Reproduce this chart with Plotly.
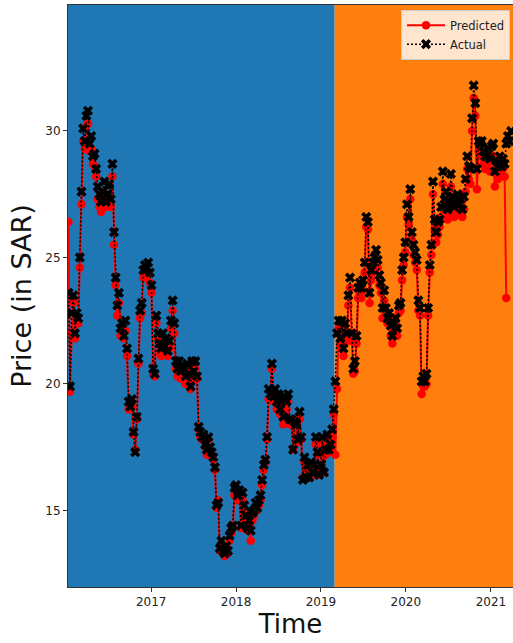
import pandas as pd
import plotly.graph_objects as go

# ---------------- data ----------------
start_date = "2016-01-11"
split_date = "2019-03-01"
x_range = ["2016-01-09", "2021-04-06"]
y_range = [11.97, 34.98]

actual = [
    # 2016
    23.6, 19.9, 22.8, 23.5, 22.0, 22.8, 22.6, 25.0, 27.6, 30.1,
    29.6, 30.6, 30.8, 29.5, 29.8, 29.0, 29.1, 28.5, 27.8, 27.5,
    27.2, 27.6, 28.0, 27.2, 27.5, 27.9, 27.3, 28.7, 26.0, 24.2,
    23.1, 23.6, 22.2, 22.4, 21.9, 22.5, 21.4, 19.3, 19.1, 19.4,
    18.1, 17.3, 18.7, 21.0, 22.9, 23.2, 24.5, 24.7, 24.6, 24.8,
    24.4, 23.9,
    # 2017
    20.6, 20.4, 22.7, 22.0, 21.6, 21.4, 22.0, 21.5, 21.8, 21.3,
    21.7, 22.5, 23.3, 22.4, 20.9, 20.6, 20.9, 20.5, 20.7, 20.6,
    20.3, 20.8, 20.4, 19.9, 20.9, 20.5, 20.9, 20.3, 18.3, 18.1,
    17.9, 18.0, 17.6, 17.4, 17.9, 17.5, 17.3, 17.1, 16.7, 15.2,
    15.3, 13.5, 13.8, 13.4, 13.3, 13.6, 13.4, 14.0, 14.3, 14.4,
    15.9, 16.0,
    # 2018
    15.6, 15.8, 14.4, 15.7, 15.2, 14.8, 14.3, 14.6, 14.2, 14.9,
    15.0, 15.3, 15.1, 15.4, 15.6, 16.2, 16.8, 17.0, 17.9, 19.8,
    19.6, 20.8, 19.5, 19.8, 19.3, 19.6, 19.0, 19.4, 18.7, 19.5,
    19.3, 19.6, 18.6, 18.6, 17.4, 18.5, 18.4, 17.8, 18.9, 17.9,
    16.2, 17.1, 16.3, 16.8, 16.3, 16.9, 16.5, 16.8, 17.9, 17.3,
    16.4, 16.8,
    # 2019
    17.9, 16.5, 17.4, 18.0, 17.4, 17.6, 18.2, 19.0, 20.1, 22.0,
    22.5, 21.8, 22.5, 21.4, 22.4, 22.0, 23.5, 24.2, 22.0, 20.6,
    20.9, 21.9, 23.8, 24.0, 23.8, 24.1, 24.8, 26.6, 26.4, 23.6,
    24.5, 24.8, 25.0, 25.3, 24.9, 24.3, 24.0, 23.0, 23.7, 23.0,
    22.6, 22.8, 22.3, 21.9, 22.4, 22.6, 22.2, 23.1, 23.2, 24.5,
    25.0, 25.6,
    # 2020 - 2021
    27.1, 26.6, 27.7, 26.0, 25.5, 25.2, 24.9, 23.3, 23.0, 20.1,
    20.3, 20.1, 20.4, 23.0, 24.7, 25.5, 28.0, 26.5, 26.0, 26.4,
    26.5, 27.0, 28.4, 27.3, 27.6, 26.9, 27.2, 28.3, 27.4, 27.0,
    27.3, 27.5, 27.1, 27.3, 26.9, 27.4, 28.1, 29.0, 28.6, 28.5,
    30.5, 31.8, 31.1, 28.5, 29.6, 29.5, 29.6, 29.2, 29.0, 29.0,
    29.3, 28.9, 29.4, 29.5, 28.4, 28.8, 28.6, 29.0, 28.6, 28.9,
    28.7, 29.5, 29.8, 29.6, 30.0,
]

predicted = [
    # 2016
    26.4, 19.7, 22.0, 23.2, 21.8, 22.5, 22.4, 24.6, 27.1, 29.6,
    29.3, 30.2, 30.3, 29.2, 29.3, 28.7, 28.6, 28.2, 27.3, 27.0,
    26.8, 27.0, 27.6, 27.0, 27.0, 27.3, 27.0, 28.2, 25.5, 23.9,
    22.7, 23.2, 21.9, 22.0, 21.8, 22.1, 21.1, 19.0, 19.0, 19.1,
    18.0, 17.4, 18.6, 20.8, 22.6, 22.8, 24.2, 24.3, 24.3, 24.4,
    24.0, 23.6,
    # 2017
    20.4, 20.3, 22.4, 21.8, 21.2, 21.1, 21.6, 21.2, 21.4, 21.1,
    21.4, 22.2, 22.9, 22.0, 20.6, 20.3, 20.5, 20.2, 20.4, 20.3,
    20.0, 20.5, 20.1, 19.8, 20.6, 20.2, 20.6, 20.2, 18.2, 17.9,
    17.8, 17.8, 17.5, 17.2, 17.8, 17.3, 17.2, 17.0, 16.6, 15.1,
    15.4, 13.4, 13.6, 13.3, 13.2, 13.4, 13.3, 13.8, 14.1, 14.3,
    15.6, 15.8,
    # 2018
    15.4, 15.6, 14.3, 15.4, 15.0, 14.6, 14.2, 14.4, 13.8, 14.6,
    14.8, 15.1, 15.0, 15.2, 15.4, 16.0, 16.6, 16.9, 17.8, 19.4,
    19.4, 20.6, 19.3, 19.5, 19.0, 19.3, 18.8, 19.1, 18.4, 19.2,
    19.0, 19.3, 18.4, 18.5, 17.4, 18.3, 18.2, 17.7, 18.6, 17.8,
    16.3, 16.9, 16.3, 16.6, 16.3, 16.7, 16.4, 16.7, 17.6, 17.2,
    16.4, 16.6,
    # 2019
    17.6, 16.5, 17.2, 17.8, 17.3, 17.5, 17.9, 18.8, 17.2, 19.8,
    22.2, 21.5, 22.2, 21.1, 22.0, 21.7, 23.1, 23.8, 21.7, 20.4,
    20.5, 21.6, 23.4, 23.6, 23.4, 23.7, 24.4, 26.2, 26.1, 23.2,
    24.1, 24.4, 24.6, 24.9, 24.6, 23.9, 23.6, 22.6, 23.3, 22.6,
    22.4, 22.5, 21.9, 21.6, 22.1, 22.3, 21.9, 22.8, 22.9, 24.1,
    24.7, 25.2,
    # 2020 - 2021
    26.6, 26.3, 27.3, 25.7, 25.1, 24.8, 24.5, 22.9, 22.7, 19.6,
    19.9, 19.9, 20.0, 22.7, 24.4, 25.1, 27.5, 26.1, 25.6, 25.9,
    26.2, 26.6, 27.9, 26.9, 27.2, 26.5, 26.7, 27.8, 27.0, 26.6,
    26.9, 27.1, 26.7, 26.9, 26.6, 26.9, 27.6, 28.5, 28.1, 27.9,
    30.0, 31.3, 30.6, 27.7, 29.2, 29.0, 29.1, 28.7, 28.5, 28.6,
    28.9, 28.4, 28.9, 29.0, 27.8, 28.3, 28.1, 28.6, 28.2, 28.5,
    28.2, 23.4,
]

dates = pd.date_range(start_date, periods=len(actual), freq="7D")
pred_dates = dates[: len(predicted)]

y_ticks = [15, 20, 25, 30]
x_ticks = ["2017-01-01", "2018-01-01", "2019-01-01", "2020-01-01", "2021-01-01"]
x_tick_text = ["2017", "2018", "2019", "2020", "2021"]

# ---------------- figure ----------------
fig = go.Figure()

fig.add_trace(go.Scatter(
    x=pred_dates, y=predicted, name="Predicted", mode="lines+markers",
    line=dict(color="#ff0000", width=2),
    marker=dict(symbol="circle", size=8.5, color="#ff0000"),
))
fig.add_trace(go.Scatter(
    x=dates, y=actual, name="Actual", mode="lines+markers",
    line=dict(color="#000000", width=1.5, dash="2px,2px"),
    marker=dict(symbol="x", size=9, color="#000000"),
))

# shaded train / test periods
fig.add_shape(type="rect", xref="x", yref="paper", x0=x_range[0], x1=split_date,
              y0=0, y1=1, fillcolor="#1f77b4", line=dict(width=0), layer="below")
fig.add_shape(type="rect", xref="x", yref="paper", x0=split_date, x1=x_range[1],
              y0=0, y1=1, fillcolor="#ff7f0e", line=dict(width=0), layer="below")

fig.update_layout(
    width=513, height=643,
    margin=dict(l=68, r=0, t=5, b=56),
    paper_bgcolor="white", plot_bgcolor="white",
    font=dict(family="DejaVu Sans", color="#222222", size=12),
    showlegend=True,
    legend=dict(
        x=0.9933, y=0.992, xanchor="right", yanchor="top",
        bgcolor="rgba(255,255,255,0.8)", bordercolor="#cccccc", borderwidth=1,
        font=dict(size=11.5, color="#222222"), tracegroupgap=0,
        itemwidth=38,
    ),
)

fig.update_xaxes(
    range=x_range, tickvals=x_ticks, ticktext=x_tick_text,
    showgrid=False, zeroline=False,
    showline=True, linecolor="#333333", linewidth=1, mirror=True,
    ticks="outside", ticklen=4, tickcolor="#333333",
    tickfont=dict(size=12, color="#222222"),
    title=dict(text="Time", font=dict(size=26, color="#111111"), standoff=3),
)
fig.update_yaxes(
    range=y_range, tickvals=y_ticks,
    showgrid=False, zeroline=False,
    showline=True, linecolor="#333333", linewidth=1,
    ticks="outside", ticklen=4, tickcolor="#333333",
    tickfont=dict(size=12, color="#222222"),
    title=dict(text="Price (in SAR)", font=dict(size=27, color="#111111"), standoff=5),
)

fig.write_html(
    "out.html",
    config={"displayModeBar": False},
    post_script="document.body.style.margin='0';document.body.style.overflow='hidden';",
)
